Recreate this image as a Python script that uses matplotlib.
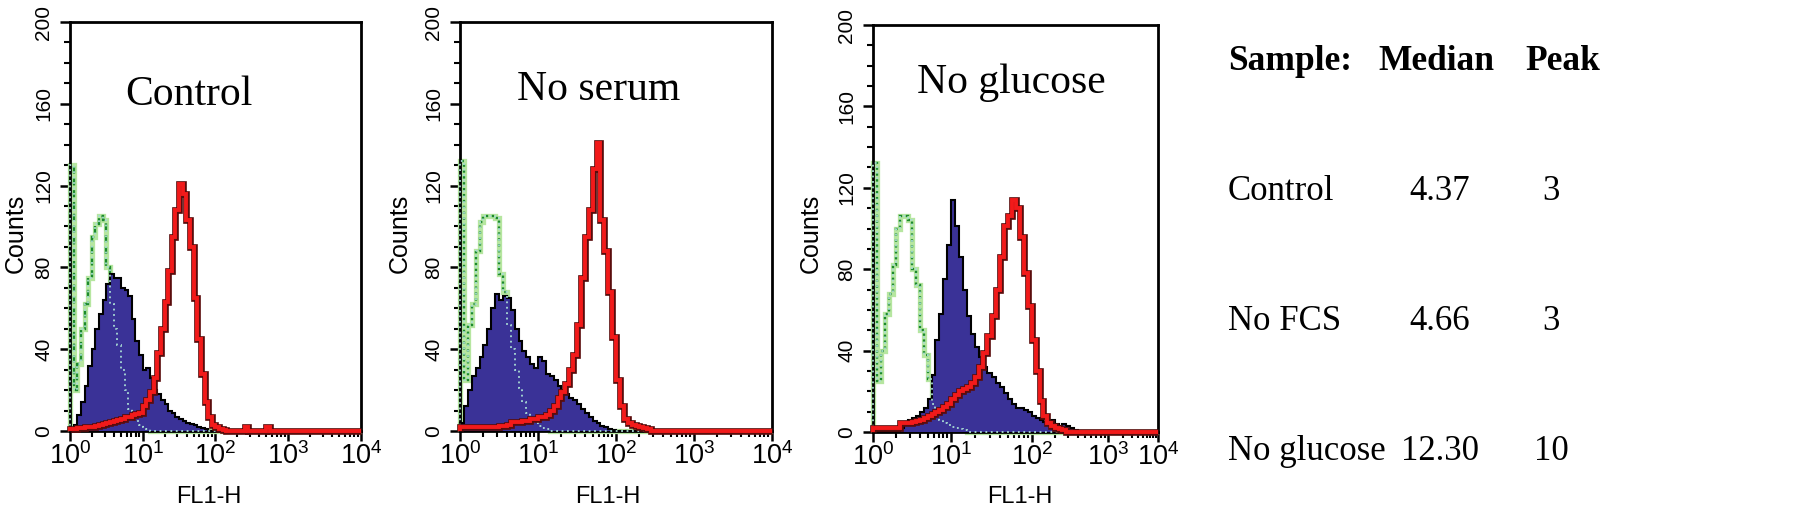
import matplotlib.pyplot as plt
import numpy as np
from matplotlib import font_manager


# histogram counts, 20 channels per decade starting at 10^0
CONTROL_GREEN = [130, 20, 33, 50, 62, 75, 95, 101, 105, 103, 80, 62, 50, 42,
                 30, 20, 11, 7, 5, 3, 2, 1]
CONTROL_BLUE = [1, 3, 8, 14, 22, 32, 40, 50, 57, 64, 72, 77, 75, 75, 70, 69,
                66, 55, 44, 37, 30, 31, 26, 20, 18, 15, 13, 10, 9, 7, 6, 5, 4,
                3.5, 3, 2, 1.5, 1]
CONTROL_RED = [1, 1, 1.5, 1.5, 2, 2, 2, 2.5, 3, 3.5, 4, 4.5, 5, 5.5, 6, 7, 7,
               8, 8.5, 9, 12, 15, 19, 26, 38, 50, 63, 78, 95, 108, 121, 116,
               103, 90, 65, 45, 28, 14, 7, 3, 2, 1, 0.5, 0, 0, 0, 0, 0, 2, 0,
               0, 0, 0, 0, 2]

NOSERUM_GREEN = [132, 25, 52, 62, 88, 102, 105, 105, 105, 104, 77, 68, 52, 40,
                 30, 21, 14, 9, 6, 4, 2.5, 1.5, 1]
NOSERUM_BLUE = [4, 12, 20, 27, 31, 36, 42, 50, 60, 67, 64, 66, 65, 59, 50, 44,
                39, 36, 33, 31, 36, 34, 28, 27, 25, 22, 19, 18, 16, 15, 13, 11,
                9, 7, 5, 4, 2.5, 2, 1, 0.5]
NOSERUM_RED = [2, 2, 2, 2, 2, 2, 2, 2, 2, 2, 2.5, 2.5, 3, 4.5, 4.5, 4.5, 5, 5,
               6, 6, 7, 7, 8, 10, 12, 16, 19, 23, 30, 37, 52, 75, 95, 108, 128,
               141, 103, 88, 68, 46, 25, 12, 6, 4, 3, 2.5, 2, 1.5, 1]

NOGLUCOSE_GREEN = [132, 25, 40, 58, 68, 82, 100, 106, 106, 104, 80, 72, 50, 38,
                   26, 14, 8, 6, 4.5, 3.5, 2.5, 2, 1.5, 1]
NOGLUCOSE_BLUE = [0, 0, 0, 0, 0, 0, 0, 2, 4, 6, 7, 8, 10, 12, 16, 28, 45, 58,
                  75, 92, 114, 101, 86, 70, 57, 48, 42, 37, 32, 29, 27, 24, 22,
                  19, 16, 14, 12, 12, 11, 10, 8, 7, 6, 5, 5, 6, 4, 3, 4, 3, 2,
                  1]
NOGLUCOSE_RED = [2, 2, 2, 2, 2, 2, 2, 4.5, 4.5, 4.5, 5, 5.5, 6, 7, 8, 9, 10,
                 11, 12.5, 14, 16, 18, 20, 21, 22, 24, 27, 32, 39, 47, 57, 70,
                 86, 101, 106, 114, 110, 96, 78, 62, 45, 30, 15, 8, 4.5, 3, 2,
                 1.5, 1]

PANEL_TITLES = ['Control', 'No serum', 'No glucose']
TABLE_HEADER = ['Sample:', 'Median', 'Peak']
TABLE_SAMPLES = ['Control', 'No FCS', 'No glucose']
TABLE_MEDIANS = ['4.37', '4.66', '12.30']
TABLE_PEAKS = ['3', '3', '10']

W, H = 1795, 511
BINS_PER_DECADE = 20
N_BINS = 80

# pixel boxes (left, top, right, bottom) of the three plots
PANEL_BOXES = [(70, 22, 361, 431), (460, 22, 772, 431), (873, 25, 1158, 432)]
TITLE_POS = [(125, 105), (517, 100), (917, 93)]
YLABEL_X = [28, 412, 823]
XLABEL_X = [209, 608, 1020]

# the third plot has an uneven decade spacing in the original
P3_DECADES = [0, 1, 2, 3, 4]
P3_SPAN = [0, 78, 159, 235, 285]

BLUE = '#3a3297'
RED = '#f21a1a'
RED_DARK = '#5a0c0c'
GREEN_DARK = '#1c8a2c'
GREEN_HALO = '#b6e6a0'
LIGHT_DOT = '#a8dcd4'

SERIF = ['Liberation Serif', 'DejaVu Serif']


def _pick_narrow():
    try:
        font_manager.findfont('Liberation Sans Narrow',
                              fallback_to_default=False)
        return 'Liberation Sans Narrow', True
    except ValueError:
        return 'Liberation Sans', False


NARROW, HAS_NARROW = _pick_narrow()

plt.rcParams['font.family'] = ['Liberation Sans', 'DejaVu Sans']
plt.rcParams['mathtext.fontset'] = 'custom'
plt.rcParams['mathtext.rm'] = NARROW
plt.rcParams['mathtext.it'] = NARROW + ':italic'
plt.rcParams['mathtext.bf'] = NARROW + ':bold'


def _padded(values):
    arr = np.zeros(N_BINS)
    arr[:len(values)] = values
    return arr


def _p3_forward(x):
    x = np.asarray(x, dtype=float)
    return np.interp(np.log10(np.maximum(x, 1e-12)), P3_DECADES, P3_SPAN)


def _p3_inverse(p):
    return 10 ** np.interp(np.asarray(p, dtype=float), P3_SPAN, P3_DECADES)


def _draw_panel(ax, green, blue, red, green_style):
    edges = 10 ** (np.arange(N_BINS + 1) / BINS_PER_DECADE)
    g, b, r = _padded(green), _padded(blue), _padded(red)
    kw = dict(clip_on=False)
    ax.stairs(g, edges, color=GREEN_HALO, lw=3.8, zorder=2, **kw)
    ax.stairs(g, edges, color=GREEN_DARK, lw=1.7, linestyle=green_style,
              zorder=2.1, **kw)
    ax.stairs(b, edges, fill=True, color=BLUE, zorder=3, **kw)
    ax.stairs(b, edges, color='black', lw=1.5, zorder=3.1, **kw)
    ax.stairs(g, edges, color=LIGHT_DOT, lw=1.3, linestyle=(0, (1, 2)),
              zorder=3.5, **kw)
    ax.stairs(r, edges, color=RED_DARK, lw=4.8, zorder=4, **kw)
    ax.stairs(r, edges, color=RED, lw=2.8, zorder=4.1, **kw)


def _style_axes(ax, idx):
    ax.set_xlim(1, 1e4)
    ax.set_ylim(0, 200)
    major = [10 ** d for d in range(5)]
    minor = [m * 10 ** d for d in range(4) for m in range(2, 10)]
    ax.set_xticks(major)
    ax.set_xticklabels([r'$\mathdefault{10^{%d}}$' % d for d in range(5)])
    ax.set_xticks(minor, minor=True)
    ax.xaxis.set_minor_formatter(plt.NullFormatter())
    ax.set_yticks(np.arange(0, 201, 40))
    ax.set_yticks(np.arange(0, 201, 10), minor=True)
    ax.tick_params(axis='both', which='major', direction='out', length=7,
                   width=1.8, color='black')
    ax.tick_params(axis='both', which='minor', direction='out', length=4.5,
                   width=1.5, color='black')
    ax.tick_params(axis='x', labelsize=22 if HAS_NARROW else 19.5, pad=1)
    ax.tick_params(axis='y', labelsize=15, pad=5)
    for label in ax.get_yticklabels():
        label.set_rotation(90)
        label.set_va('center')
    for spine in ax.spines.values():
        spine.set_linewidth(2)
        spine.set_color('black')

    left, top, right, bottom = PANEL_BOXES[idx]
    ax.set_ylabel('Counts', family=NARROW, fontsize=21 if HAS_NARROW else 18)
    ax.yaxis.set_label_coords((YLABEL_X[idx] - left) / (right - left),
                              (bottom - 233) / (bottom - top))
    ax.set_xlabel('FL1-H', family=NARROW, fontsize=20 if HAS_NARROW else 17)
    ax.xaxis.set_label_coords((XLABEL_X[idx] - left) / (right - left),
                              (bottom - 486) / (bottom - top))


def main():
    fig = plt.figure(figsize=(W / 100, H / 100), dpi=100)
    data = [(CONTROL_GREEN, CONTROL_BLUE, CONTROL_RED, (0, (3, 2))),
            (NOSERUM_GREEN, NOSERUM_BLUE, NOSERUM_RED, (0, (1, 1.5))),
            (NOGLUCOSE_GREEN, NOGLUCOSE_BLUE, NOGLUCOSE_RED, (0, (1, 1.5)))]

    for i, (green, blue, red, style) in enumerate(data):
        left, top, right, bottom = PANEL_BOXES[i]
        ax = fig.add_axes([left / W, 1 - bottom / H,
                           (right - left) / W, (bottom - top) / H])
        if i == 2:
            ax.set_xscale('function', functions=(_p3_forward, _p3_inverse))
        else:
            ax.set_xscale('log')
        _draw_panel(ax, green, blue, red, style)
        _style_axes(ax, i)
        tx, ty = TITLE_POS[i]
        fig.text(tx / W, 1 - ty / H, PANEL_TITLES[i], family=SERIF,
                 fontsize=30, ha='left', va='baseline')

    # summary table on the right
    col_sample, col_median, col_peak = 1228, 1436, 1563
    for text, x, ha in zip(TABLE_HEADER, (col_sample, col_median, col_peak),
                           ('left', 'center', 'center')):
        fig.text(x / W, 1 - 70 / H, text, family=SERIF, fontsize=25.5,
                 fontweight='bold', ha=ha, va='baseline')
    for row, base in enumerate((200, 330, 460)):
        y = 1 - base / H
        fig.text(col_sample / W, y, TABLE_SAMPLES[row], family=SERIF,
                 fontsize=25, ha='left', va='baseline')
        fig.text((col_median + 4) / W, y, TABLE_MEDIANS[row], family=SERIF,
                 fontsize=25, ha='center', va='baseline')
        fig.text((col_peak - 12) / W, y, TABLE_PEAKS[row], family=SERIF,
                 fontsize=25, ha='center', va='baseline')

    fig.savefig('out.png', dpi=100)


if __name__ == '__main__':
    main()
